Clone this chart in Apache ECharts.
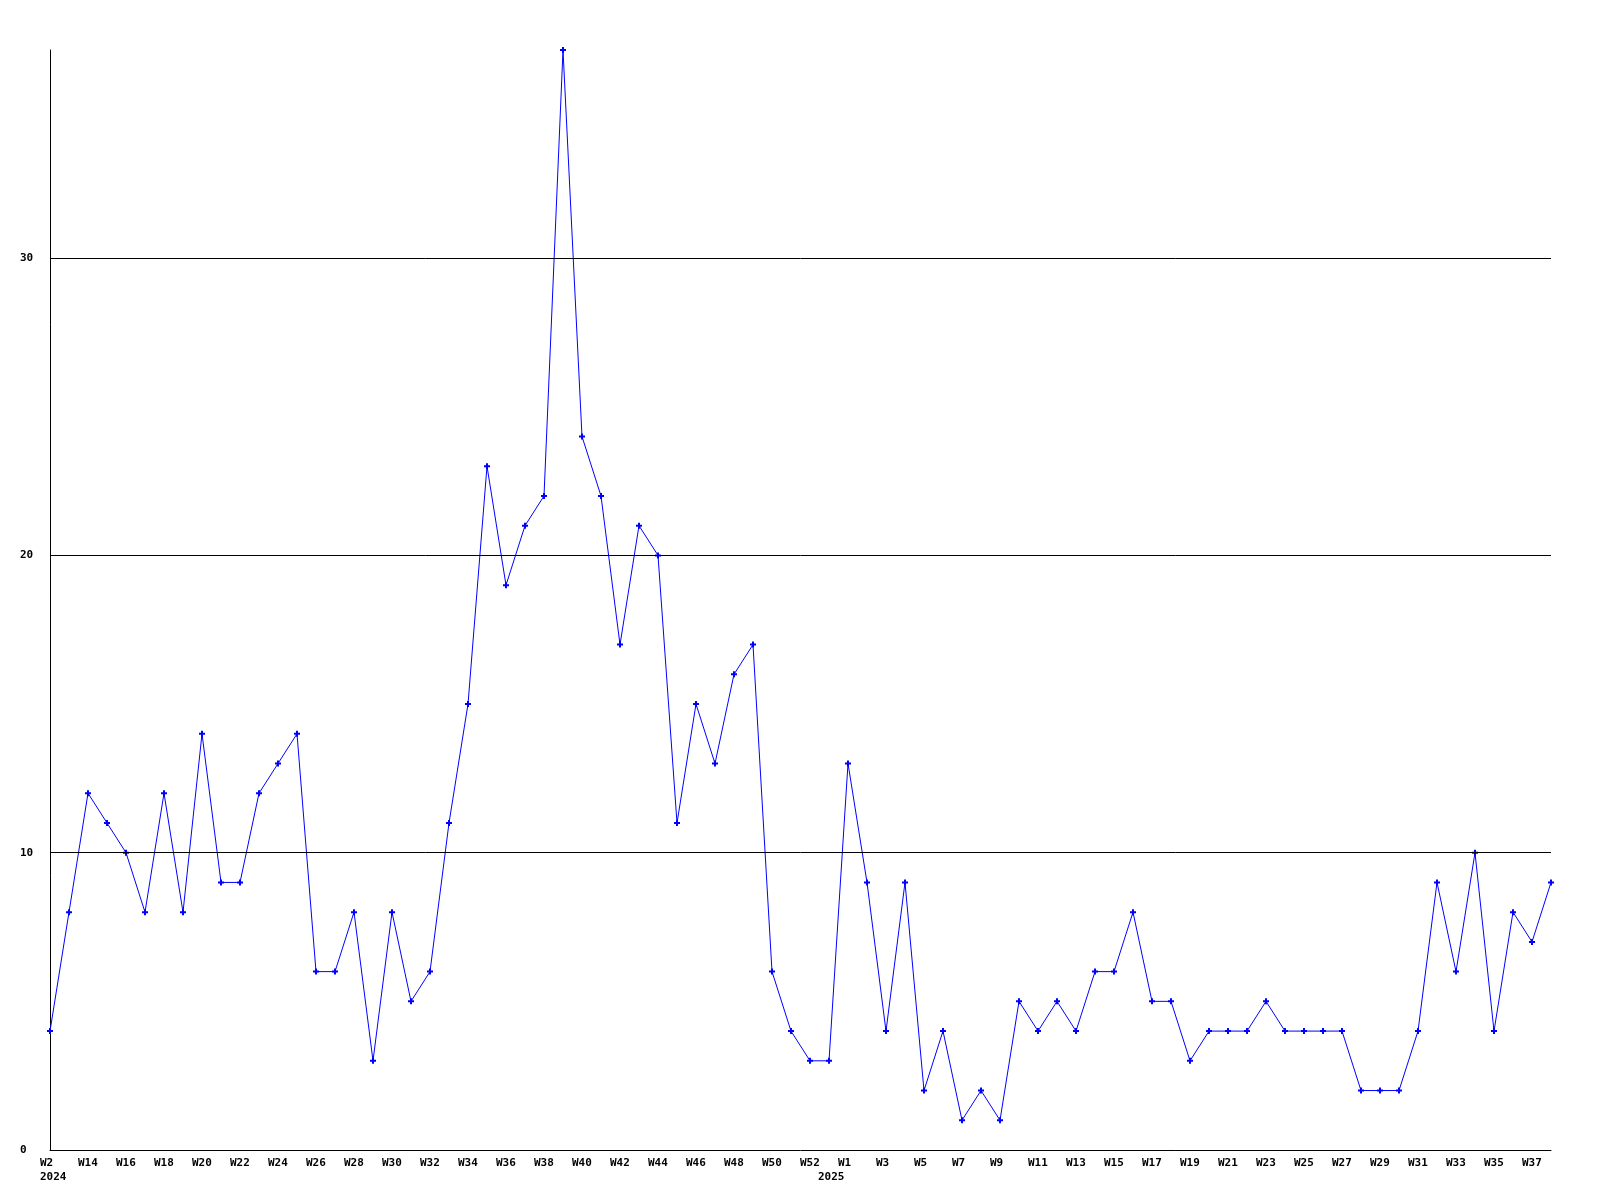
<!DOCTYPE html>
<html>
<head>
<meta charset="utf-8">
<script src="https://cdn.jsdelivr.net/npm/echarts@6/dist/echarts.min.js"></script>
<style>html,body{margin:0;padding:0;background:#fff}#c{width:1600px;height:1200px}</style>
</head>
<body>
<div id="c"></div>
<script>
// Weeks: 2024 W12..W53, then 2025 W1..W38
const categories = [
  'W12','W13','W14','W15','W16','W17','W18','W19','W20','W21','W22','W23','W24','W25','W26','W27','W28','W29','W30','W31',
  'W32','W33','W34','W35','W36','W37','W38','W39','W40','W41','W42','W43','W44','W45','W46','W47','W48','W49','W50','W51',
  'W52','W53',
  'W1','W2','W3','W4','W5','W6','W7','W8','W9','W10','W11','W12','W13','W14','W15','W16','W17','W18','W19','W20',
  'W21','W22','W23','W24','W25','W26','W27','W28','W29','W30','W31','W32','W33','W34','W35','W36','W37','W38'
];
const values = [
  4,8,12,11,10,8,12,8,14,9,9,12,13,14,6,6,8,3,8,5,
  6,11,15,23,19,21,22,37,24,22,17,21,20,11,15,13,16,17,6,4,
  3,3,
  13,9,4,9,2,4,1,2,1,5,4,5,4,6,6,8,5,5,3,4,
  4,4,5,4,4,4,4,2,2,2,4,9,6,10,4,8,7,9
];
// Special tick label texts (index -> text), as shown on the chart
const specialLabels = { 0: 'W2\n{y0|2024}', 42: 'W1\n{y1|2025}' };
const yTicks = [0, 10, 20, 30];
const gridValues = [10, 20, 30];

const font = '"DejaVu Sans Mono", "Liberation Mono", monospace';
const txt = { color: '#000', fontFamily: font, fontWeight: 'bold', fontSize: 11, lineHeight: 14 };
const chart = echarts.init(document.getElementById('c'), null, { renderer: 'canvas' });
chart.setOption({
  animation: false,
  backgroundColor: '#ffffff',
  grid: { left: 50, right: 49, top: 50, bottom: 50, containLabel: false },
  xAxis: {
    type: 'category',
    data: categories,
    boundaryGap: false,
    axisLine: { show: true, lineStyle: { color: '#000', width: 1 } },
    axisTick: { show: false },
    splitLine: { show: false },
    axisLabel: Object.assign({
      interval: 1,
      margin: 6,
      align: 'left',
      padding: [0, 0, 0, -10],
      rich: {
        y0: Object.assign({}, txt),
        y1: Object.assign({ padding: [0, 0, 0, -20] }, txt)
      },
      formatter: function (v, i) { return specialLabels[i] !== undefined ? specialLabels[i] : v; }
    }, txt)
  },
  yAxis: {
    type: 'value',
    min: 0,
    max: 37,
    interval: 10,
    axisLine: { show: true, lineStyle: { color: '#000', width: 1 } },
    axisTick: { show: false },
    splitLine: { show: false },
    axisLabel: {
      showMaxLabel: false,
      align: 'left',
      margin: 30,
      color: '#000',
      fontFamily: font,
      fontWeight: 'bold',
      fontSize: 11,
      formatter: function (v) { return yTicks.indexOf(v) >= 0 ? String(v) : ''; }
    }
  },
  series: [
    {
      type: 'line',
      data: [],
      z: 1,
      silent: true,
      markLine: {
        silent: true,
        symbol: 'none',
        label: { show: false },
        lineStyle: { color: '#000', width: 1, type: 'solid' },
        data: gridValues.map(v => ({ yAxis: v }))
      }
    },
    {
      type: 'line',
      data: values,
      z: 3,
      symbol: 'path://M2,0H4V2H6V4H4V6H2V4H0V2H2Z',
      symbolSize: 6,
      showAllSymbol: true,
      lineStyle: { color: '#0000ff', width: 1 },
      itemStyle: { color: '#0000ff' },
      emphasis: { disabled: true }
    }
  ]
});
</script>
</body>
</html>
